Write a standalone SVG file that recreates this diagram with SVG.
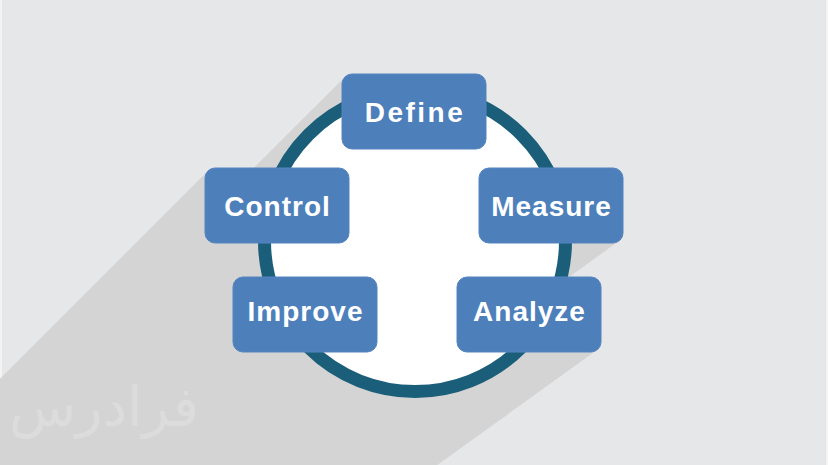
<svg xmlns="http://www.w3.org/2000/svg" width="828" height="465" viewBox="0 0 828 465">
  <style>
    .bg { fill: #e6e7e8; }
    .edge { fill: #f3f3f4; }
    .shadow { fill: #d4d4d4; }
    .ring { fill: #ffffff; stroke: #1a5e7a; stroke-width: 13; }
    .box { fill: #4d7fbb; stroke: #5585c0; stroke-width: 1; }
    .label { font-family: "Liberation Sans", Arial, sans-serif; font-weight: bold; font-size: 28px; fill: #ffffff; text-anchor: middle; letter-spacing: 1px; }
    .wm { font-family: "DejaVu Sans", "Noto Sans", sans-serif; font-size: 55px; fill: #dcdcdc; }
  </style>
  <rect class="bg" x="0" y="0" width="828" height="465"/>
  <rect class="edge" x="0" y="0" width="2" height="465"/>
  <rect class="edge" x="826" y="0" width="2" height="465"/>
  <g id="shadow">
    <polygon class="shadow" points="304,130 506.8,368.3 -493.2,1088.3 -696,1130"/>
    <polygon class="shadow" points="344.9,76.9 481.9,147.1 -518.1,867.1 -655.1,1076.9"/>
    <polygon class="shadow" points="207.9,170.9 344.9,241.1 -655.1,961.1 -792.1,1170.9"/>
    <polygon class="shadow" points="481.9,170.9 618.9,241.1 -381.1,961.1 -518.1,1170.9"/>
    <polygon class="shadow" points="235.9,279.9 372.9,350.1 -627.1,1070.1 -764.1,1279.9"/>
    <polygon class="shadow" points="459.9,279.9 596.9,350.1 -403.1,1070.1 -540.1,1279.9"/>
  </g>
  <text class="wm" x="104" y="426" text-anchor="middle" direction="rtl">فرادرس</text>
  <g id="connectors">
    <circle class="ring" cx="415" cy="241" r="150.5"/>
  </g>
  <g id="define">
    <rect class="box" x="342" y="74" width="144" height="75" rx="10"/>
    <text class="label" x="415" y="121.5" style="letter-spacing:2.5px">Define</text>
  </g>
  <g id="measure">
    <rect class="box" x="479" y="168" width="144" height="75" rx="10"/>
    <text class="label" x="551.5" y="215.5">Measure</text>
  </g>
  <g id="analyze">
    <rect class="box" x="457" y="277" width="144" height="75" rx="10"/>
    <text class="label" x="529.5" y="320.5">Analyze</text>
  </g>
  <g id="improve">
    <rect class="box" x="233" y="277" width="144" height="75" rx="10"/>
    <text class="label" x="305.5" y="320.5">Improve</text>
  </g>
  <g id="control">
    <rect class="box" x="205" y="168" width="144" height="75" rx="10"/>
    <text class="label" x="277.5" y="215.5">Control</text>
  </g>
</svg>
